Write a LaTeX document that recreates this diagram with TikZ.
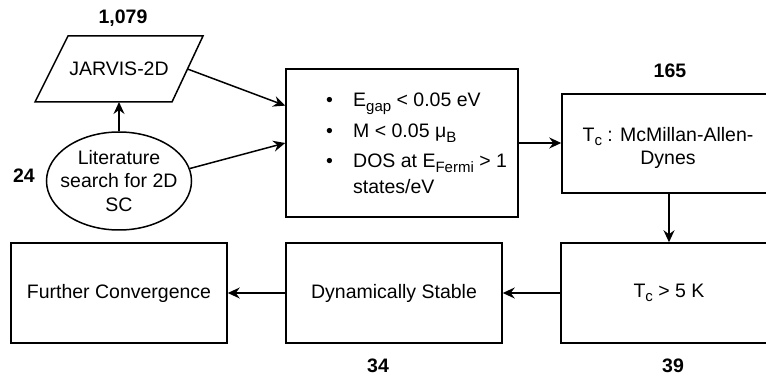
\documentclass[tikz,border=0pt]{standalone}
\usepackage{fontspec}
\setmainfont{Liberation Sans}
\usetikzlibrary{shapes.geometric,arrows.meta,calc}
\newcommand\mysub[1]{\raisebox{-4.5pt}{\fontsize{15}{15}\selectfont #1}}
\begin{document}
\begin{tikzpicture}[x=1pt,y=-1pt,
  every node/.style={font=\fontsize{19.5}{23.4}\selectfont, inner sep=0pt},
  box/.style={draw, line width=1.5pt, rectangle, minimum width=216pt, minimum height=100pt},
  num/.style={font=\fontsize{19.5}{23.4}\selectfont\bfseries},
  bul/.style={anchor=base west},
  shp/.style={draw, line width=1.5pt},
  arr/.style={line width=1.5pt, -{Stealth[length=12pt,width=11pt,inset=4pt]}}]
\useasboundingbox (0,0) rectangle (766,382);
\clip (0,0) rectangle (766,382);

% top-left sources
\draw[shp] (68,36) -- (203,36) -- (172,102) -- (35,102) -- cycle;
\node (jarvis) at (119,69) {JARVIS-2D};
\coordinate (jarvisR) at (187.5,69);
\coordinate (jarvisB) at (119,102);
\node[shp, ellipse, minimum width=145pt, minimum height=98pt] (lit) at (119,181) {};
\node[align=center] (littxt) at (119,181) {Literature\\search for 2D\\SC};

% filter box
\node[box, minimum width=232pt, minimum height=148pt] (filt) at (402,143) {};
\node[bul] (d1) at (326,107) {\textbullet};
\node[bul] (d2) at (326,138) {\textbullet};
\node[bul] (d3) at (326,168) {\textbullet};
\node[bul] (b1) at (353,107) {E\mysub{gap} < 0.05 eV};
\node[bul] (b2) at (353,138) {M < 0.05 μ\mysub{B}};
\node[bul] (b3) at (353,168) {DOS at E\mysub{Fermi} > 1};
\node[bul] (b4) at (353,194) {states/eV};

% right column
\node[box, minimum width=214pt, minimum height=99pt] (tcmad) at (669,143.5) {};
\node[align=center] (tcmadtxt) at (668,148) {T\mysub{c} : McMillan-Allen-\\Dynes};
\node[box] (tc5) at (669,293) {T\mysub{c} > 5 K};

% bottom row
\node[box] (dyn) at (394,293) {Dynamically Stable};
\node[box] (fc) at (119,293) {Further Convergence};

% counts
\node[num] (n1079) at (123,18) {1,079};
\node[num] (n165) at (670,71) {165};
\node[num] (n24) at (24,176) {24};
\node[num] (n34) at (378,366) {34};
\node[num] (n39) at (673,366) {39};

% connectors
\draw[arr] (lit.north) -- (jarvisB);
\draw[arr] (jarvisR) -- ($(filt.north west)!0.25!(filt.south west)$);
\draw[arr] (lit.10) -- (filt.west);
\draw[arr] (filt.east) -- (filt.east -| tcmad.west);
\draw[arr] (tcmad.south) -- (tc5.north);
\draw[arr] (tc5.west) -- (dyn.east);
\draw[arr] (dyn.west) -- (fc.east);
\end{tikzpicture}
\end{document}
